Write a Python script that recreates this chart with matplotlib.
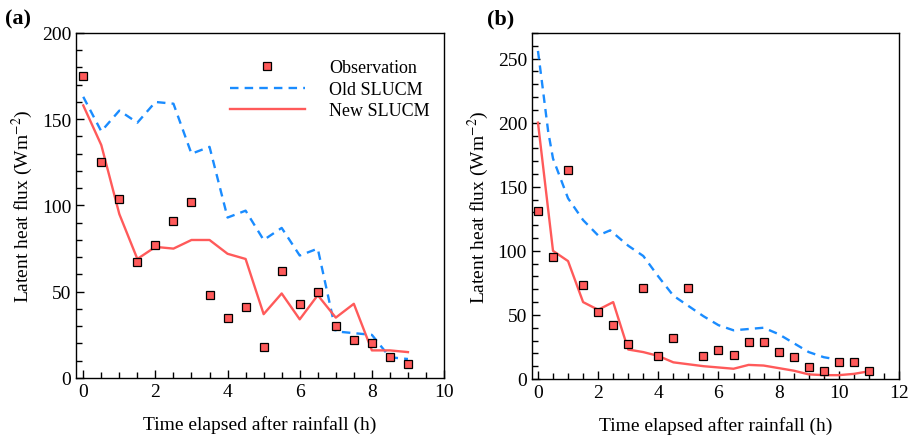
import numpy as np
import matplotlib
matplotlib.use("Agg")
import matplotlib.pyplot as plt
from matplotlib.ticker import MultipleLocator

plt.rcParams['font.family'] = ['Liberation Serif', 'DejaVu Serif']
plt.rcParams['mathtext.fontset'] = 'stix'

# panel (a) data, half-hourly
xA = [0, 0.5, 1, 1.5, 2, 2.5, 3, 3.5, 4, 4.5, 5, 5.5, 6, 6.5, 7, 7.5, 8, 8.5, 9]
obsA = [175, 125, 104, 67, 77, 91, 102, 48, 35, 41, 18, 62, 43, 50, 30, 22, 20, 12, 8]
oldA = [163, 143, 155, 148, 160, 159, 130, 134, 93, 97, 80, 87, 71, 75, 27, 26, 25, 12, 11]
newA = [158, 135, 95, 69, 76, 75, 80, 80, 72, 69, 37, 49, 34, 48, 35, 43, 16, 16, 15]

# panel (b) data
xB = [0, 0.5, 1, 1.5, 2, 2.5, 3, 3.5, 4, 4.5, 5, 5.5, 6, 6.5, 7, 7.5, 8, 8.5, 9, 9.5, 10, 10.5, 11]
obsB = [131, 95, 163, 73, 52, 42, 27, 71, 18, 32, 71, 18, 23, 19, 29, 29, 21, 17, 9, 6, 13, 13, 6]
newB = [200, 100, 92, 60, 54, 60, 23, 21, 18, 13, 11.5, 10, 9, 8, 11, 10.5, 8.5, 6.5, 3.6, 3, 3, 4, 6]
xOldB = [0, 0.12, 0.34, 0.5, 0.79, 1, 1.5, 2, 2.4, 3, 3.5, 4, 4.5, 5, 5.5, 6, 6.5, 7, 7.5, 8, 8.5, 9, 9.5, 10, 10.5, 10.8]
oldB = [256, 234, 193, 172, 154, 141, 124, 112, 116, 104, 96, 80, 65, 57, 49, 42, 38, 39, 40, 35, 28, 21, 17, 15, 15, 16]

red = '#ff5a5a'
blue = '#1a8cff'

fig = plt.figure(figsize=(9.14, 4.39), dpi=100)
axA = fig.add_axes([0.0832, 0.1367, 0.4026, 0.7859])
axB = fig.add_axes([0.582, 0.1344, 0.4016, 0.7882])


def draw(ax, x, obs, xo, old, new, xlim, ylim, xmaj, ymaj):
    ax.plot(x, obs, 's', ms=5.5, mfc=red, mec='black', mew=0.9, ls='none', label='Observation', zorder=3)
    ax.plot(xo, old, '--', color=blue, lw=1.7, dashes=(3.6, 2.6), label='Old SLUCM')
    ax.plot(x[:len(new)], new, '-', color=red, lw=1.7, label='New SLUCM')
    ax.set_xlim(*xlim)
    ax.set_ylim(*ylim)
    ax.xaxis.set_major_locator(MultipleLocator(xmaj))
    ax.xaxis.set_minor_locator(MultipleLocator(0.5))
    ax.yaxis.set_major_locator(MultipleLocator(ymaj))
    ax.yaxis.set_minor_locator(MultipleLocator(10))
    ax.tick_params(which='both', direction='in', top=False, right=False, labelsize=14)
    ax.tick_params(which='major', length=6, width=1)
    ax.tick_params(which='minor', length=4, width=1)
    for s in ax.spines.values():
        s.set_linewidth(1.0)
    ax.set_xlabel('Time elapsed after rainfall (h)', fontsize=14, labelpad=11)
    ax.set_ylabel(r'Latent heat flux (Wm$^{-2}$)', fontsize=14, labelpad=5)


draw(axA, xA, obsA, xA, oldA, newA, (-0.2, 10), (0, 200), 2, 50)
draw(axB, xB, obsB, xOldB, oldB, newB, (-0.2, 12), (0, 270), 2, 50)

axA.legend(loc='upper right', bbox_to_anchor=(0.99, 0.955), frameon=False, fontsize=13,
           handlelength=4.2, handletextpad=1.3, labelspacing=0.25, borderaxespad=0.2)

fig.text(0.005, 0.955, '(a)', fontsize=16, fontweight='bold', va='center', ha='left')
fig.text(0.533, 0.955, '(b)', fontsize=16, fontweight='bold', va='center', ha='left')

fig.savefig('out.png', dpi=100)
